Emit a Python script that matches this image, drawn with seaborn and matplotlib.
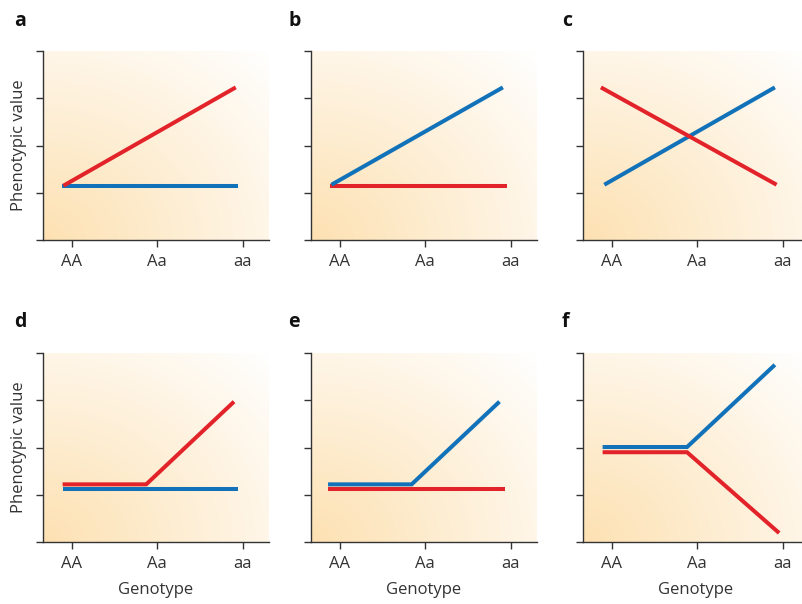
import matplotlib.pyplot as plt
import matplotlib.colors as mcolors
import numpy as np
import pandas as pd
import seaborn as sns

sns.set_style("ticks")
plt.rcParams['font.family'] = ['Open Sans', 'DejaVu Sans']

# genotype categories on the x axis (positions 0, 1, 2)
genotypes = ['AA', 'Aa', 'aa']
panel_letters = ['a', 'b', 'c', 'd', 'e', 'f']

# line vertices (x in genotype units, y in phenotypic units 0-4)
a_red_x = [-0.10, 1.92]
a_red_y = [1.15, 3.23]
a_blue_x = [-0.12, 1.95]
a_blue_y = [1.15, 1.15]

b_red_x = [-0.12, 1.96]
b_red_y = [1.14, 1.14]
b_blue_x = [-0.10, 1.91]
b_blue_y = [1.17, 3.23]

c_red_x = [-0.13, 1.93]
c_red_y = [3.23, 1.17]
c_blue_x = [-0.09, 1.91]
c_blue_y = [1.17, 3.23]

d_red_x = [-0.11, 0.87, 1.90]
d_red_y = [1.22, 1.22, 2.97]
d_blue_x = [-0.11, 1.95]
d_blue_y = [1.13, 1.13]

e_red_x = [-0.14, 1.93]
e_red_y = [1.13, 1.13]
e_blue_x = [-0.14, 0.84, 1.87]
e_blue_y = [1.22, 1.22, 2.97]

f_red_x = [-0.11, 0.88, 1.96]
f_red_y = [1.90, 1.90, 0.19]
f_blue_x = [-0.11, 0.88, 1.91]
f_blue_y = [2.01, 2.01, 3.75]

panel_lines = {
    'a': [(a_blue_x, a_blue_y, 'blue'), (a_red_x, a_red_y, 'red')],
    'b': [(b_red_x, b_red_y, 'red'), (b_blue_x, b_blue_y, 'blue')],
    'c': [(c_blue_x, c_blue_y, 'blue'), (c_red_x, c_red_y, 'red')],
    'd': [(d_blue_x, d_blue_y, 'blue'), (d_red_x, d_red_y, 'red')],
    'e': [(e_red_x, e_red_y, 'red'), (e_blue_x, e_blue_y, 'blue')],
    'f': [(f_red_x, f_red_y, 'red'), (f_blue_x, f_blue_y, 'blue')],
}

line_colors = {'red': '#e2232a', 'blue': '#1172b9'}
axis_color = '#333333'

# background gradient: warm orange at bottom-left fading to white at top-right
gx, gy = np.meshgrid(np.linspace(0, 1, 200), np.linspace(0, 1, 200))
dist = np.clip(np.sqrt(gx ** 2 + gy ** 2) / np.sqrt(2), 0, 1)
base = np.array(mcolors.to_rgb('#fde1b2'))
grad = base[None, None, :] * (1 - dist[..., None]) + np.ones(3)[None, None, :] * dist[..., None]

fig = plt.figure(figsize=(8.02, 6.04), dpi=100)

lefts = [43 / 802, 311 / 802, 583 / 802]
bottoms = [1 - 240 / 604, 1 - 542 / 604]
width = 226 / 802
height = 189 / 604

letter_x = [14 / 802, 288 / 802, 562 / 802]
letter_y = [1 - 26 / 604, 1 - 327 / 604]

for i, letter in enumerate(panel_letters):
    row, col = divmod(i, 3)
    ax = fig.add_axes([lefts[col], bottoms[row], width, height])
    ax.imshow(grad, extent=[0, 1, 0, 1], transform=ax.transAxes, origin='lower',
              aspect='auto', zorder=0, interpolation='bilinear')

    for xs, ys, cname in panel_lines[letter]:
        df = pd.DataFrame({'x': xs, 'y': ys})
        sns.lineplot(data=df, x='x', y='y', ax=ax, sort=False, color=line_colors[cname],
                     linewidth=2.9, solid_capstyle='butt', solid_joinstyle='miter',
                     zorder=3)

    ax.set_xlim(-0.34, 2.31)
    ax.set_ylim(0, 4)
    ax.set_xticks(range(len(genotypes)))
    ax.set_xticklabels(genotypes, fontsize=12, color=axis_color)
    ax.set_yticks([0, 1, 2, 3, 4])
    ax.set_yticklabels([])
    ax.tick_params(direction='out', length=5, width=1, color=axis_color, pad=5)
    sns.despine(ax=ax)
    for s in ['left', 'bottom']:
        ax.spines[s].set_color(axis_color)
        ax.spines[s].set_linewidth(1)

    if col == 0:
        ax.set_ylabel('Phenotypic value', fontsize=12, color=axis_color)
        ax.yaxis.set_label_coords(-0.07, 0.5)
    else:
        ax.set_ylabel('')
    if row == 1:
        ax.set_xlabel('Genotype', fontsize=12, color=axis_color, labelpad=7)
    else:
        ax.set_xlabel('')

    fig.text(letter_x[col], letter_y[row], letter, fontsize=14, fontweight='bold',
             color='#111111', ha='left', va='baseline')

plt.savefig('out.png', dpi=100)
